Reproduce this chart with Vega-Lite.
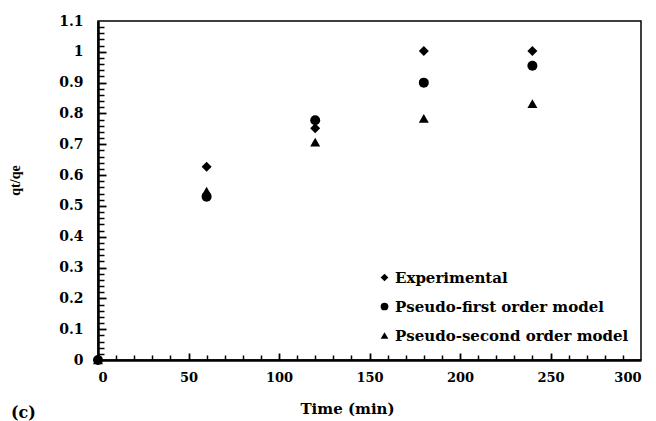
{
  "$schema": "https://vega.github.io/schema/vega-lite/v6.json",
  "width": 543,
  "height": 339,
  "autosize": {"type": "none"},
  "padding": {"left": 98, "top": 21, "right": 15, "bottom": 61},
  "background": "white",
  "config": {
    "view": {"stroke": "black", "strokeWidth": 1.5},
    "font": "DejaVu Serif"
  },
  "title": {
    "text": "(c)",
    "orient": "bottom",
    "anchor": "start",
    "frame": "bounds",
    "font": "DejaVu Serif",
    "fontSize": 16,
    "fontWeight": "bold",
    "color": "black",
    "offset": -11,
    "dx": 3
  },
  "data": {
    "values": [
      {"t": 0, "q": 0, "series": "Experimental"},
      {"t": 60, "q": 0.627, "series": "Experimental"},
      {"t": 120, "q": 0.752, "series": "Experimental"},
      {"t": 180, "q": 1.003, "series": "Experimental"},
      {"t": 240, "q": 1.003, "series": "Experimental"},
      {"t": 0, "q": 0, "series": "Pseudo-first order model"},
      {"t": 60, "q": 0.53, "series": "Pseudo-first order model"},
      {"t": 120, "q": 0.778, "series": "Pseudo-first order model"},
      {"t": 180, "q": 0.9, "series": "Pseudo-first order model"},
      {"t": 240, "q": 0.955, "series": "Pseudo-first order model"},
      {"t": 0, "q": 0, "series": "Pseudo-second order model"},
      {"t": 60, "q": 0.548, "series": "Pseudo-second order model"},
      {"t": 120, "q": 0.707, "series": "Pseudo-second order model"},
      {"t": 180, "q": 0.784, "series": "Pseudo-second order model"},
      {"t": 240, "q": 0.832, "series": "Pseudo-second order model"}
    ]
  },
  "layer": [
    {
      "mark": {"type": "point", "opacity": 0},
      "encoding": {
        "x": {
          "field": "t", "type": "quantitative",
          "scale": {"domain": [0, 300], "nice": false, "zero": false},
          "axis": {
            "orient": "top", "offset": -339,
            "values": [10,20,30,40,60,70,80,90,110,120,130,140,160,170,180,190,210,220,230,240,260,270,280,290],
            "labels": false, "domain": false, "grid": false,
            "tickSize": 5, "tickColor": "black", "tickWidth": 1.5, "title": null
          }
        },
        "y": {
          "field": "q", "type": "quantitative",
          "scale": {"domain": [0, 1.1], "nice": false, "zero": false},
          "axis": {
            "orient": "right", "offset": -543,
            "values": [0.02,0.04,0.06,0.08,0.12,0.14,0.16,0.18,0.22,0.24,0.26,0.28,0.32,0.34,0.36,0.38,0.42,0.44,0.46,0.48,0.52,0.54,0.56,0.58,0.62,0.64,0.66,0.68,0.72,0.74,0.76,0.78,0.82,0.84,0.86,0.88,0.92,0.94,0.96,0.98,1.02,1.04,1.06,1.08],
            "labels": false, "domain": false, "grid": false,
            "tickSize": 6, "tickColor": "black", "tickWidth": 1.5, "title": null
          }
        }
      }
    },
    {
      "mark": {"type": "point", "opacity": 0},
      "encoding": {
        "x": {
          "field": "t", "type": "quantitative",
          "scale": {"domain": [0, 300], "nice": false, "zero": false},
          "axis": {
            "orient": "top", "offset": -339,
            "values": [50, 100, 150, 200, 250],
            "labels": false, "domain": false, "grid": false,
            "tickSize": 7, "tickColor": "black", "tickWidth": 1.8, "title": null
          }
        },
        "y": {
          "field": "q", "type": "quantitative",
          "scale": {"domain": [0, 1.1], "nice": false, "zero": false},
          "axis": {
            "orient": "right", "offset": -543,
            "values": [0.1, 0.2, 0.3, 0.4, 0.5, 0.6, 0.7, 0.8, 0.9, 1],
            "labels": false, "domain": false, "grid": false,
            "tickSize": 8, "tickColor": "black", "tickWidth": 1.8, "title": null
          }
        }
      }
    },
    {
      "mark": {"type": "point", "filled": true, "color": "black", "opacity": 1, "size": 100},
      "encoding": {
        "x": {
          "field": "t", "type": "quantitative",
          "scale": {"domain": [0, 300], "nice": false, "zero": false},
          "axis": {
            "orient": "bottom",
            "values": [0, 50, 100, 150, 200, 250, 300],
            "grid": false, "ticks": false,
            "domainColor": "black", "domainWidth": 2.5,
            "labelPadding": 11,
            "labelFont": "DejaVu Serif", "labelFontSize": 13, "labelFontWeight": "bold", "labelColor": "black",
            "title": "Time (min)",
            "titleFont": "DejaVu Serif", "titleFontSize": 15, "titleFontWeight": "bold", "titleColor": "black",
            "titleX": 249, "titleY": 48, "titleBaseline": "middle"
          }
        },
        "y": {
          "field": "q", "type": "quantitative",
          "scale": {"domain": [0, 1.1], "nice": false, "zero": false},
          "axis": {
            "orient": "left",
            "values": [0, 0.1, 0.2, 0.3, 0.4, 0.5, 0.6, 0.7, 0.8, 0.9, 1, 1.1],
            "format": ".1~f",
            "grid": false, "ticks": false,
            "domainColor": "black", "domainWidth": 2.5,
            "labelPadding": 15,
            "labelFont": "DejaVu Serif", "labelFontSize": 14, "labelFontWeight": "bold", "labelColor": "black",
            "title": "qt/qe",
            "titleFont": "Liberation Serif", "titleFontSize": 14, "titleFontWeight": "bold", "titleColor": "black",
            "titleX": -83, "titleY": 159, "titleBaseline": "middle"
          }
        },
        "shape": {
          "field": "series", "type": "nominal",
          "scale": {"domain": ["Experimental", "Pseudo-first order model", "Pseudo-second order model"], "range": ["diamond", "circle", "triangle-up"]},
          "legend": {
            "title": null,
            "orient": "none",
            "legendX": 279,
            "legendY": 249,
            "padding": 0,
            "rowPadding": 13,
            "symbolSize": 60,
            "symbolFillColor": "black",
            "symbolStrokeColor": "black",
            "labelOffset": 3,
            "labelFont": "DejaVu Serif", "labelFontSize": 15, "labelFontWeight": "bold", "labelColor": "black",
            "labelLimit": 400
          }
        }
      }
    }
  ],
  "resolve": {"axis": {"x": "independent", "y": "independent"}}
}
